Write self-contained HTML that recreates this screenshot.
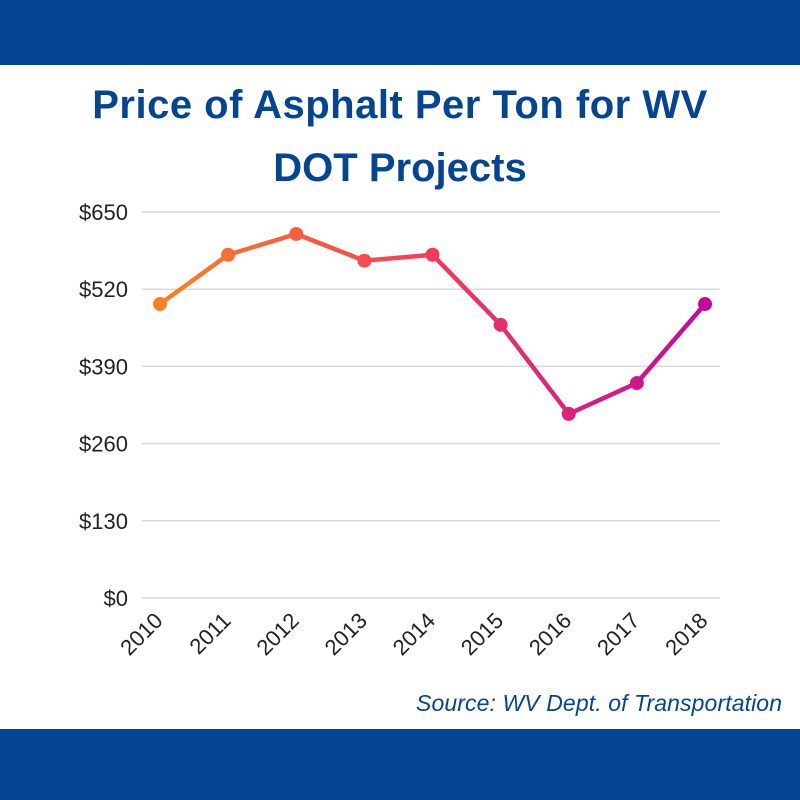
<!DOCTYPE html>
<html><head><meta charset="utf-8"><style>
html,body{margin:0;padding:0;background:#fff;}
body{width:800px;height:800px;position:relative;overflow:hidden;font-family:"Liberation Sans",sans-serif;}
.band{position:absolute;left:0;width:800px;background:#044592;}
</style></head><body>
<div class="band" style="top:0;height:65px"></div>
<div class="band" style="top:729px;height:71px"></div>
<svg width="800" height="800" style="position:absolute;left:0;top:0">
<defs><linearGradient id="g" x1="160" x2="705" y1="0" y2="0" gradientUnits="userSpaceOnUse">
<stop offset="0" stop-color="#f98226"/><stop offset="0.5" stop-color="#f53a5a"/><stop offset="1" stop-color="#c10a9c"/></linearGradient></defs>
<text x="400" y="118" text-anchor="middle" font-size="40" font-weight="bold" fill="#044592" letter-spacing="0.5">Price of Asphalt Per Ton for WV</text>
<text x="400" y="181" text-anchor="middle" font-size="40" font-weight="bold" fill="#044592">DOT Projects</text>
<g id="grid"></g><g id="xl"></g><g id="series"></g>
<text x="782" y="711" text-anchor="end" font-size="23" font-style="italic" fill="#044592" textLength="366">Source: WV Dept. of Transportation</text>
</svg>
<script>
const years=["2010","2011","2012","2013","2014","2015","2016","2017","2018"];
const prices=[495,578,613,568,578,460,310,362,495];
const ticks=[0,130,260,390,520,650];
const tickLabels=["$0","$130","$260","$390","$520","$650"];
const NS="http://www.w3.org/2000/svg";
const y0=598,y1=212,yMax=650,xL=160,xR=705;
const yS=v=>y0-(v/yMax)*(y0-y1);
const xS=i=>xL+i*(xR-xL)/(years.length-1);
function mk(t,a,p){const e=document.createElementNS(NS,t);for(const k in a)e.setAttribute(k,a[k]);p.appendChild(e);return e;}
const grid=document.getElementById('grid');
ticks.forEach((t,i)=>{
 const l=mk('line',{x1:142,x2:720,y1:yS(t),y2:yS(t),stroke:'#d9d9d9','stroke-width':1.5},grid);
 
 
 const tx=mk('text',{x:128,y:yS(t)+8,'text-anchor':'end','font-size':22,fill:'#222'},grid);
 tx.textContent=tickLabels[i];
 
 
});
const xl=document.getElementById('xl');
years.forEach((y,i)=>{
 const x=xS(i)+4,yy=622;
 const tx=mk('text',{x:x,y:yy,'text-anchor':'end','font-size':22,fill:'#222',transform:`rotate(-45 ${x} ${yy})`},xl);
 tx.textContent=y;
 
 
});
const s=document.getElementById('series');
const pts=prices.map((v,i)=>xS(i)+','+yS(v)).join(' ');
const pl=mk('polyline',{points:pts,fill:'none',stroke:'url(#g)','stroke-width':4.5,'stroke-linejoin':'round'},s);


prices.forEach((v,i)=>{
 const c=mk('circle',{cx:xS(i),cy:yS(v),r:7,fill:'url(#g)'},s);
 
 
});
</script>
</body></html>
